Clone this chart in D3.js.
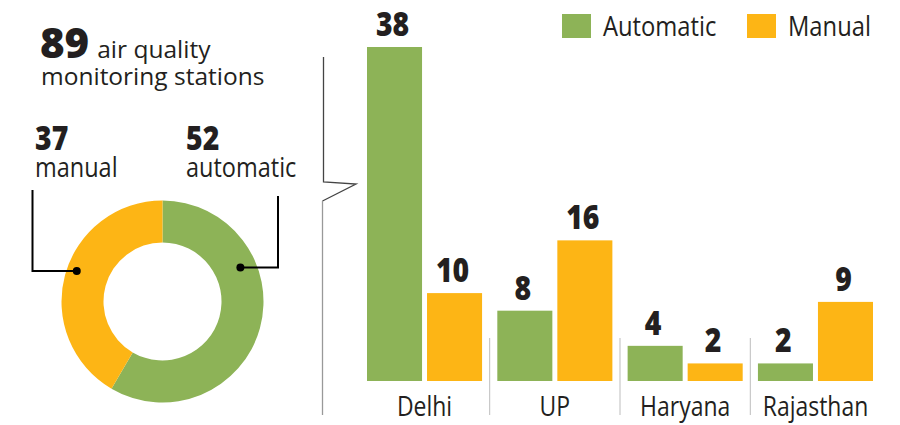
<!DOCTYPE html>
<html>
<head>
<meta charset="utf-8">
<script src="https://cdn.jsdelivr.net/npm/d3@7"></script>
<style>
  body { margin: 0; background: #fff; }
  svg { display: block; font-family: "Open Sans", sans-serif; }
  text { fill: #231f20; }
</style>
</head>
<body>
<svg id="chart" width="900" height="425"></svg>
<script>
var states = ["Delhi", "UP", "Haryana", "Rajasthan"],
    types = ["Automatic", "Manual"],
    automatic = [38, 8, 4, 2],
    manual = [10, 16, 2, 9];

var totalLabel = "89",
    donutTypes = ["automatic", "manual"],
    donutValues = [52, 37];

var color = d3.scaleOrdinal()
    .domain(types)
    .range(["#8db357", "#fdb515"]);

var svg = d3.select("#chart");

// squeeze text to look like the condensed face of the original
function condense(sel, k) {
    sel.each(function() {
        var len = this.getComputedTextLength();
        d3.select(this)
            .attr("textLength", len * k)
            .attr("lengthAdjust", "spacingAndGlyphs");
    });
}

// ---- bars
var x0 = d3.scaleBand()
    .domain(states)
    .range([367, 873])
    .paddingInner(0.117)
    .paddingOuter(0);

var x1 = d3.scaleBand()
    .domain(types)
    .range([0, x0.bandwidth()])
    .paddingInner(0.083);

var y = d3.scaleLinear()
    .domain([0, 38])
    .range([381, 47]);

var rows = states.map(function(s, i) {
    return {state: s, values: [
        {type: "Automatic", value: automatic[i]},
        {type: "Manual", value: manual[i]}
    ]};
});

var group = svg.selectAll(".group")
    .data(rows)
    .enter().append("g")
    .attr("class", "group")
    .attr("transform", function(d) { return "translate(" + x0(d.state) + ",0)"; });

group.selectAll("rect")
    .data(function(d) { return d.values; })
    .enter().append("rect")
    .attr("x", function(d) { return x1(d.type); })
    .attr("y", function(d) { return y(d.value); })
    .attr("width", x1.bandwidth())
    .attr("height", function(d) { return y(0) - y(d.value); })
    .style("fill", function(d) { return color(d.type); });

group.selectAll(".val")
    .data(function(d) { return d.values; })
    .enter().append("text")
    .attr("class", "val")
    .attr("x", function(d) { return x1(d.type) + x1.bandwidth() / 2 - 2; })
    .attr("y", function(d) { return y(d.value) - 11; })
    .attr("text-anchor", "middle")
    .style("font-size", "33px")
    .style("font-weight", 800)
    .text(function(d) { return d.value; })
    .call(condense, 0.86);

// category labels, no axis line in the original
var xAxis = d3.axisBottom(x0).tickSize(0).tickPadding(0);
var ax = svg.append("g")
    .attr("transform", "translate(0,416)")
    .call(xAxis);
ax.select(".domain").remove();
ax.selectAll("text")
    .attr("y", 0)
    .attr("dy", 0)
    .style("font-family", "'Open Sans', sans-serif")
    .style("font-size", "27px")
    .style("fill", "#231f20")
    .call(condense, 0.85);

// thin separators between states
svg.selectAll(".sep")
    .data(states.slice(1))
    .enter().append("line")
    .attr("class", "sep")
    .attr("x1", function(d) { return x0(d) - x0.step() * x0.paddingInner() / 2; })
    .attr("x2", function(d) { return x0(d) - x0.step() * x0.paddingInner() / 2; })
    .attr("y1", 338)
    .attr("y2", 415)
    .style("stroke", "#bdbdbd")
    .style("stroke-width", 1);

// legend
var legend = svg.selectAll(".legend")
    .data(types)
    .enter().append("g")
    .attr("class", "legend")
    .attr("transform", function(d, i) { return "translate(" + (562 + i * 185) + ",14)"; });

legend.append("rect")
    .attr("width", 29)
    .attr("height", 24)
    .style("fill", function(d) { return color(d); });

legend.append("text")
    .attr("x", 41)
    .attr("y", 22)
    .style("font-size", "27px")
    .text(function(d) { return d; })
    .call(condense, 0.88);

// bracket pointing from the donut to the bars
svg.append("path")
    .attr("d", "M323.5,57V182L356,184L322.5,201")
    .style("fill", "none")
    .style("stroke", "#444")
    .style("stroke-width", 1.3);
svg.append("line")
    .attr("x1", 322.5).attr("x2", 322.5)
    .attr("y1", 201).attr("y2", 415)
    .style("stroke", "#999")
    .style("stroke-width", 1.3);

// ---- donut
var cx = 162.5, cy = 301.5;

var pie = d3.pie().sort(null).value(function(d) { return d.value; });
var arc = d3.arc().innerRadius(59).outerRadius(101);

var slices = pie(donutTypes.map(function(t, i) { return {type: t, value: donutValues[i]}; }));

var donut = svg.append("g")
    .attr("transform", "translate(" + cx + "," + cy + ")");

donut.selectAll("path")
    .data(slices)
    .enter().append("path")
    .attr("d", arc)
    .style("fill", function(d, i) { return color(types[i]); });

// title
var title = svg.append("text")
    .attr("x", 40)
    .attr("y", 58);
title.append("tspan")
    .style("font-size", "42px")
    .style("font-weight", 800)
    .text(totalLabel);
title.append("tspan")
    .attr("dx", 8)
    .style("font-size", "24.5px")
    .text("air quality");
svg.append("text")
    .attr("x", 41)
    .attr("y", 85)
    .style("font-size", "24.5px")
    .text("monitoring stations");

// donut callouts: dot angle (deg from top), dot radius, elbow x, top of leader, label x
var callouts = [
    {i: 1, angle: 289.6, r: 91, ex: 32.5, top: 190, lx: 35},
    {i: 0, angle: 66.4, r: 85, ex: 278, top: 196, lx: 186}
];

callouts.forEach(function(c) {
    var a = c.angle * Math.PI / 180,
        px = cx + c.r * Math.sin(a),
        py = cy - c.r * Math.cos(a);
    svg.append("path")
        .attr("d", "M" + px + "," + py + "H" + c.ex + "V" + c.top)
        .style("fill", "none")
        .style("stroke", "#000")
        .style("stroke-width", 2);
    svg.append("circle")
        .attr("cx", px).attr("cy", py).attr("r", 4)
        .style("fill", "#000");
    svg.append("text")
        .attr("x", c.lx).attr("y", 150)
        .style("font-size", "33px")
        .style("font-weight", 800)
        .text(donutValues[c.i])
        .call(condense, 0.86);
    svg.append("text")
        .attr("x", c.lx).attr("y", 177)
        .style("font-size", "27px")
        .text(donutTypes[c.i])
        .call(condense, 0.87);
});
</script>
</body>
</html>
